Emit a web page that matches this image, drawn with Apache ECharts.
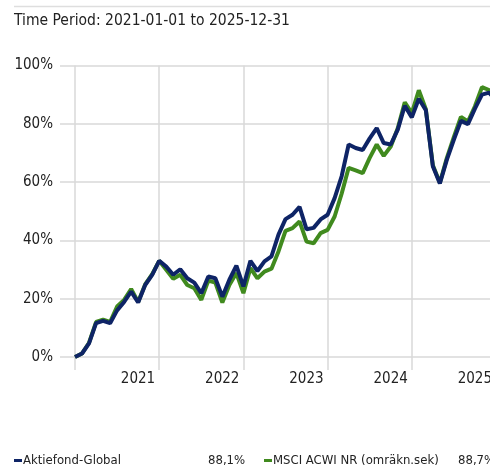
<!DOCTYPE html>
<html>
<head>
<meta charset="utf-8">
<script src="https://cdn.jsdelivr.net/npm/echarts@6/dist/echarts.min.js"></script>
<style>
html,body{margin:0;padding:0;background:#fff;overflow:hidden;width:490px;height:467px;}
#c{width:500px;height:467px;}
</style>
</head>
<body>
<div id="c"></div>
<script>
// Month index 0 = 2021-01-01, 60 = 2025-12-31
const titleText = 'Time Period: 2021-01-01 to 2025-12-31';
const yearLabels = ['2021', '2022', '2023', '2024', '2025'];
const yTickMax = 100;
const seriesNames = ['Aktiefond-Global', 'MSCI ACWI NR (omräkn.sek)'];
const legendValues = ['88,1%', '88,7%'];
const fundValues = [
  0, 1.2, 4.7, 11.6, 12.4, 11.6, 16.0, 18.9, 22.4, 18.7, 24.7, 28.2, 33.0,
  31.0, 28.2, 30.1, 27.0, 25.5, 21.9, 27.6, 27.0, 20.7, 26.5, 31.3, 24.2,
  33.0, 29.5, 32.8, 34.5, 42.0, 47.3, 48.8, 51.5, 43.8, 44.3, 47.2, 48.8,
  54.5, 62.0, 72.9, 71.7, 71.0, 75.0, 78.5, 73.4, 72.9, 78.0, 86.2, 82.2,
  88.6, 84.7, 65.4, 59.5, 67.7, 74.6, 81.0, 79.9, 85.2, 90.0, 90.7, 88.1
];
const indexValues = [
  0, 1.2, 4.9, 12.0, 12.8, 12.0, 17.3, 19.6, 23.3, 18.9, 24.9, 28.4, 33.0,
  29.9, 26.8, 28.2, 24.7, 23.6, 19.6, 26.2, 25.5, 18.7, 24.7, 28.8, 21.9,
  30.5, 27.0, 29.3, 30.3, 36.2, 43.3, 44.2, 46.5, 39.6, 39.0, 42.5, 43.6,
  48.2, 56.0, 64.9, 64.0, 63.1, 68.3, 72.9, 69.0, 72.2, 78.5, 87.4, 83.7,
  91.5, 85.0, 65.8, 59.8, 68.3, 75.5, 82.4, 80.8, 86.0, 92.6, 91.6, 88.7
];

const FONT = '"Liberation Sans Narrow", "DejaVu Sans Condensed", sans-serif';
const GRID_COLOR = '#d9d9d9';
const TEXT_COLOR = '#222';
const BLUE = '#0e2466';
const GREEN = '#408a1e';

const toPairs = arr => arr.map((v, i) => [i, v]);
const legendVal = {};
seriesNames.forEach((n, i) => legendVal[n] = legendValues[i]);

function makeLegend(name, left) {
  return {
    left: left, top: 454,
    data: [name],
    icon: 'rect',
    itemWidth: 8, itemHeight: 3,
    padding: 0,
    selectedMode: false,
    formatter: n => '{n|' + n + '}{v|' + legendVal[n] + '}',
    textStyle: {
      fontFamily: FONT, fontSize: 13, color: TEXT_COLOR, padding: [0, 0, 0, -4],
      rich: {
        n: {fontFamily: FONT, fontSize: 13, color: TEXT_COLOR, width: 185},
        v: {fontFamily: FONT, fontSize: 13, color: TEXT_COLOR, width: 40}
      }
    }
  };
}

const chart = echarts.init(document.getElementById('c'), null, {renderer: 'canvas'});
chart.setOption({
  animation: false,
  backgroundColor: '#fff',
  title: {
    text: titleText,
    left: 14, top: 13, padding: 0,
    textStyle: {fontFamily: FONT, fontSize: 15.5, fontWeight: 'normal', color: TEXT_COLOR}
  },
  graphic: [{
    type: 'line',
    shape: {x1: 14, y1: 6.5, x2: 500, y2: 6.5},
    style: {stroke: '#dedede', lineWidth: 1.5}
  }],
  grid: {left: 75, right: 4, top: 65.5, bottom: 110, containLabel: false},
  legend: [makeLegend(seriesNames[0], 14), makeLegend(seriesNames[1], 264)],
  xAxis: {
    type: 'value',
    min: 0, max: 60, interval: 12,
    axisLine: {show: false},
    axisTick: {show: true, length: 13, lineStyle: {color: GRID_COLOR, width: 1.5}},
    splitLine: {show: true, lineStyle: {color: GRID_COLOR, width: 1.5}},
    axisLabel: {
      show: true,
      margin: 15,
      align: 'right',
      padding: [0, 4, 0, 0],
      fontFamily: FONT, fontSize: 15, color: TEXT_COLOR,
      formatter: v => (v > 0 ? yearLabels[v / 12 - 1] : '')
    }
  },
  yAxis: {
    type: 'value',
    min: 0, max: yTickMax, interval: 20,
    axisLine: {show: false},
    axisTick: {show: true, length: 15, lineStyle: {color: GRID_COLOR, width: 1.5}},
    splitLine: {show: true, lineStyle: {color: GRID_COLOR, width: 1.5}},
    axisLabel: {
      margin: 22,
      fontFamily: FONT, fontSize: 15, color: TEXT_COLOR,
      formatter: '{value}%'
    }
  },
  series: [
    {
      name: seriesNames[1],
      type: 'line',
      data: toPairs(indexValues),
      showSymbol: false,
      lineStyle: {color: GREEN, width: 4},
      itemStyle: {color: GREEN},
      z: 2
    },
    {
      name: seriesNames[0],
      type: 'line',
      data: toPairs(fundValues),
      showSymbol: false,
      lineStyle: {color: BLUE, width: 4},
      itemStyle: {color: BLUE},
      z: 3
    }
  ]
});
</script>
</body>
</html>
